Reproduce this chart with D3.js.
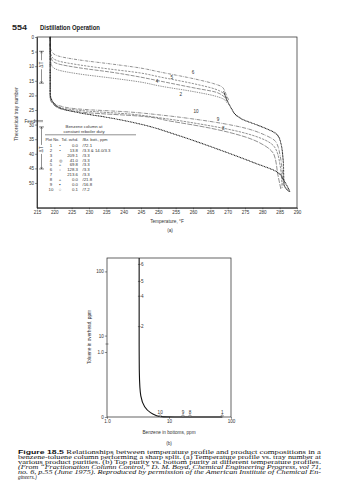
<!DOCTYPE html>
<html>
<head>
<meta charset="utf-8">
<script src="https://cdn.jsdelivr.net/npm/d3@7"></script>
<style>
  body { margin: 0; background: #fff; }
  svg { display: block; font-family: "Liberation Sans", Arial, sans-serif; }
</style>
</head>
<body>
<div id="page"></div>
<script>
// ---- data ----
const tempTicks = [215, 220, 225, 230, 235, 240, 245, 250, 255, 260, 265, 270, 275, 280, 285, 290];
const trayTicks = [0, 5, 10, 15, 20, 25, 30, 35, 40, 45, 50];
const feedTray = 28.8;

// temperature profiles, [temperature F, theoretical tray]
const profile1 = [[218.8, 0], [218.8, 19.2], [219.6, 22.3], [221.6, 24.3], [227.4, 26.0], [236.1, 27.7], [244.7, 29.8], [256.2, 33.9], [267.8, 38.7], [277.9, 43.2], [284.2, 46.2], [286.5, 49.7], [288.0, 53.1]];
const profile2 = [[218.8, 0], [218.8, 6.5], [219.3, 9.9], [221.1, 11.3], [227.4, 12.7], [236.1, 14.0], [244.7, 15.4], [250.5, 16.8], [260.6, 18.8], [266.3, 20.2], [268.7, 21.2], [269.8, 22.6]];
const profile4 = [[218.8, 0], [218.8, 5.1], [219.3, 7.9], [221.1, 9.2], [227.4, 10.6], [236.1, 12.0], [244.7, 13.7], [250.5, 15.1], [260.6, 17.5], [266.3, 18.8], [268.7, 20.2], [269.8, 21.9]];
const profile5 = [[218.8, 0], [218.8, 4.5], [219.3, 6.8], [221.1, 8.2], [227.4, 9.6], [236.1, 11.0], [244.7, 12.3], [250.5, 13.7], [260.6, 16.1], [266.3, 17.8], [268.7, 19.2], [269.8, 21.2]];
const profile6 = [[218.8, 0], [218.8, 3.1], [219.3, 5.1], [221.1, 6.5], [227.4, 7.9], [236.1, 9.2], [244.7, 10.6], [250.5, 12.0], [260.6, 14.4], [266.3, 16.1], [268.4, 17.1], [269.5, 19.5], [270.4, 21.9]];
const profile7 = [[268.9, 18.8], [269.8, 21.6], [271.0, 24.3], [272.4, 26.7], [274.1, 28.1], [279.3, 30.5], [283.7, 32.9], [285.1, 35.3], [286.0, 42.1], [286.3, 50.7], [288.0, 53.1]];
const profile8 = [[218.8, 0], [218.8, 20.9], [220.2, 23.6], [223.1, 25.0], [230.3, 26.0], [244.7, 27.1], [253.4, 28.8], [264.9, 31.2], [275.0, 34.2], [280.8, 37.3], [283.4, 40.4], [284.5, 47.3], [285.4, 52.4]];
const profile9 = [[218.8, 0], [218.8, 20.6], [219.9, 22.9], [222.2, 24.3], [228.8, 25.3], [241.8, 26.4], [250.5, 27.7], [262.0, 29.8], [273.6, 32.5], [280.8, 35.3], [283.7, 38.0], [285.1, 43.8], [285.7, 51.7]];
const profile10 = [[218.8, 0], [218.8, 19.9], [219.6, 22.3], [221.6, 23.6], [227.4, 24.7], [241.8, 25.7], [250.5, 26.7], [262.0, 28.4], [273.6, 30.8], [280.8, 33.6], [283.9, 35.9], [285.1, 40.4], [286.0, 50.7]];

const curveLabels = ["6", "5", "4", "2", "10", "9", "8"];
const curveLabelAt = [[260.0, 12.6], [253.9, 14.3], [249.6, 15.7], [256.5, 20.3], [260.9, 26.1], [267.2, 28.8], [268.7, 31.9]];

// legend table
const plotNos = ["1", "2", "3", "4", "5", "6", "7", "8", "9", "10"];
const plotSymbols = ["•", "•", "", "◎", "+", "▫", "", "+", "▪", "○"];
const tolOvhd = ["0.0", "13.8", "209.1", "41.0", "69.8", "128.3", "213.6", "0.0", "0.0", "0.1"];
const bzBott = ["72.1", "3.3 & 14.0/3.3", "3.3", "3.3", "3.3", "3.3", "3.3", "21.8", "16.8", "7.2"];

// chart (b): top purity vs bottom purity
const bzCurve = [3.3, 3.3, 3.3, 3.3, 3.3, 3.3, 3.45, 4.0, 5.0, 6.5, 7.2, 16.8, 21.8, 72.1];
const tolCurve = [162, 128.3, 69.8, 41.0, 13.8, 0.4, 0.2, 0.14, 0.115, 0.103, 0.1, 0.1, 0.1, 0.1];
const upperPoints = ["6", "5", "4", "2"];
const upperTol = [128.3, 69.8, 41.0, 13.8];
const lowerPoints = ["10", "9", "8", "1"];
const lowerBz = [7.2, 16.8, 21.8, 72.1];
const bzTicks = [1, 10, 100];
const bzTickLabels = ["1.0", "10", "100"];
const tolTicks = [0.1, 1, 10, 100];
const tolTickLabels = ["0", "1.0", "10", "100"];

const captionLines = [
  "Relationships between temperature profile and product compositions in a",
  "benzene-toluene column performing a sharp split. (a) Temperature profile vs. tray number at",
  "various product purities. (b) Top purity vs. bottom purity at different temperature profiles.",
  "(From \u201cFractionation Column Control,\u201d D. M. Boyd, Chemical Engineering Progress, vol 71,",
  "no. 6, p.55 (June 1975). Reproduced by permission of the American Institute of Chemical En-",
  "gineers.)"
];

// ---- page ----
const W = 338, H = 480;
const ink = "#222";
const svg = d3.select("#page").append("svg").attr("width", W).attr("height", H);

svg.append("text").attr("x", 12).attr("y", 29.5).attr("font-size", 7.2).attr("font-weight", "bold")
  .attr("fill", ink).attr("textLength", 15).attr("lengthAdjust", "spacingAndGlyphs").text("554");
svg.append("text").attr("x", 40).attr("y", 29.5).attr("font-size", 7.2).attr("font-weight", "bold")
  .attr("fill", ink).attr("textLength", 60).attr("lengthAdjust", "spacingAndGlyphs").text("Distillation Operation");

// ---- chart (a) ----
const xA = d3.scaleLinear().domain([215, 290]).range([37, 297]);
const yA = d3.scaleLinear().domain([0, 58.5]).range([37, 207.8]);

const gA = svg.append("g");
gA.append("rect").attr("x", xA(215)).attr("y", yA(0)).attr("width", xA(290) - xA(215))
  .attr("height", yA(58.5) - yA(0)).attr("fill", "none").attr("stroke", ink).attr("stroke-width", 0.7);

const axA1 = gA.append("g").attr("transform", `translate(0,${yA(58.5)})`)
  .call(d3.axisBottom(xA).tickValues(tempTicks).tickSize(1.5).tickSizeOuter(0).tickPadding(1.5));
const axA2 = gA.append("g").attr("transform", `translate(${xA(215)},0)`)
  .call(d3.axisLeft(yA).tickValues(trayTicks).tickSize(2).tickSizeOuter(0).tickPadding(1));
[axA1, axA2].forEach(a => {
  a.select(".domain").attr("stroke", ink).attr("stroke-width", 0.8);
  a.selectAll("line").attr("stroke", ink).attr("stroke-width", 0.5);
  a.selectAll("text").attr("font-size", 4.6).attr("fill", "#333");
});

gA.append("text").attr("transform", `translate(17.5,114) rotate(-90)`)
  .attr("text-anchor", "middle").attr("font-size", 5.1).attr("fill", "#333").text("Theoretical tray number");
gA.append("text").attr("x", (xA(215) + xA(290)) / 2).attr("y", 222.5).attr("text-anchor", "middle")
  .attr("font-size", 4.7).attr("fill", "#333").text("Temperature, \u00B0F");
gA.append("text").attr("x", (xA(215) + xA(290)) / 2 + 3).attr("y", 231.5).attr("text-anchor", "middle")
  .attr("font-size", 4.7).attr("fill", "#333").text("(a)");

// feed marker
gA.append("text").attr("x", 35).attr("y", yA(feedTray) + 1.6).attr("text-anchor", "end")
  .attr("font-size", 4.6).attr("fill", "#333").text("Feed");
[-0.6, 0.6].forEach(o => gA.append("line").attr("x1", 34.5).attr("x2", 43)
  .attr("y1", yA(feedTray) + o).attr("y2", yA(feedTray) + o).attr("stroke", ink).attr("stroke-width", 0.4));

// delta-T brackets
function bracket(t0, t1, tm) {
  const bx = 41.5;
  const y0 = yA(t0), y1 = yA(t1), ym = yA(tm);
  gA.append("line").attr("x1", bx).attr("x2", bx).attr("y1", y0).attr("y2", ym - 4.5).attr("stroke", ink).attr("stroke-width", 0.5);
  gA.append("line").attr("x1", bx).attr("x2", bx).attr("y1", ym + 4.5).attr("y2", y1).attr("stroke", ink).attr("stroke-width", 0.5);
  [y0, y1].forEach(y => gA.append("line").attr("x1", bx - 2.4).attr("x2", bx + 2.4).attr("y1", y).attr("y2", y)
    .attr("stroke", ink).attr("stroke-width", 0.6));
  gA.append("path").attr("d", `M${bx - 1},${y0 + 2}L${bx},${y0 + 0.3}L${bx + 1},${y0 + 2}`).attr("fill", "none").attr("stroke", ink).attr("stroke-width", 0.4);
  gA.append("path").attr("d", `M${bx - 1},${y1 - 2}L${bx},${y1 - 0.3}L${bx + 1},${y1 - 2}`).attr("fill", "none").attr("stroke", ink).attr("stroke-width", 0.4);
  gA.append("text").attr("transform", `translate(${bx + 1.6},${ym}) rotate(-90)`).attr("text-anchor", "middle")
    .attr("font-size", 4.7).attr("fill", "#333").text("\u0394T");
}
bracket(4.9, 15.8, 9.5);
bracket(30.8, 45.2, 38.5);

// profiles
const lineA = d3.line().x(d => xA(d[0])).y(d => yA(d[1])).curve(d3.curveMonotoneY);
const profiles = [
  { data: profile6, dash: "3 1 0.6 1", w: 0.5 },
  { data: profile5, dash: "2.2 1.2", w: 0.5 },
  { data: profile4, dash: "4 1.2", w: 0.5 },
  { data: profile2, dash: "1.4 0.9", w: 0.5 },
  { data: profile10, dash: "4 1 0.6 1", w: 0.5 },
  { data: profile9, dash: "2.5 1", w: 0.5 },
  { data: profile8, dash: "5 1.2", w: 0.5 },
  { data: profile1, dash: "0.01 1.6", w: 1.2, round: true },
  { data: profile7, dash: "0.01 1.5", w: 1.2, round: true }
];
profiles.forEach(p => {
  gA.append("path").attr("d", lineA(p.data)).attr("fill", "none").attr("stroke", ink)
    .attr("stroke-width", p.w).attr("stroke-dasharray", p.dash)
    .attr("stroke-linecap", p.round ? "round" : "butt");
});
curveLabels.forEach((c, i) => {
  gA.append("text").attr("x", xA(curveLabelAt[i][0])).attr("y", yA(curveLabelAt[i][1]))
    .attr("text-anchor", "middle").attr("font-size", 4.6).attr("fill", "#333").text(c);
});

// legend table
const lg = gA.append("g").attr("font-size", 4.3).attr("fill", "#333");
lg.append("text").attr("x", 84).attr("y", 127.5).attr("text-anchor", "middle").text("Benzene column at");
lg.append("text").attr("x", 84).attr("y", 132.5).attr("text-anchor", "middle").text("constant reboiler duty");
lg.append("line").attr("x1", 45).attr("x2", 136).attr("y1", 134.8).attr("y2", 134.8).attr("stroke", ink).attr("stroke-width", 0.5);
lg.append("text").attr("x", 45.5).attr("y", 140.8).attr("font-size", 3.9).text("Plot No.");
lg.append("text").attr("x", 61.5).attr("y", 140.8).attr("font-size", 3.9).text("Tol. ovhd.");
lg.append("text").attr("x", 82.5).attr("y", 140.8).attr("font-size", 3.9).text("/Bz. bott., ppm");
plotNos.forEach((n, i) => {
  const y = 147 + i * 4.85;
  lg.append("text").attr("x", 51).attr("y", y).attr("text-anchor", "middle").text(n);
  lg.append("text").attr("x", 60).attr("y", y).attr("text-anchor", "middle").text(plotSymbols[i]);
  lg.append("text").attr("x", 78).attr("y", y).attr("text-anchor", "end").text(tolOvhd[i]);
  lg.append("text").attr("x", 82.5).attr("y", y).text("/" + bzBott[i]);
});

// ---- chart (b) ----
const bL = 107, bR = 231, bT = 258, bB = 417;
const xB = d3.scaleLog().domain([1, 100]).range([bL, bR]);
const yB = d3.scaleLog().domain([0.1, 1, 10, 100]).range([bB, 352, 335.6, 271.4]);
const gB = svg.append("g");
gB.append("rect").attr("x", bL).attr("y", bT).attr("width", bR - bL).attr("height", bB - bT)
  .attr("fill", "none").attr("stroke", ink).attr("stroke-width", 0.7);
const axB1 = gB.append("g").attr("transform", `translate(0,${bB})`)
  .call(d3.axisBottom(xB).tickValues(bzTicks).tickFormat((d, i) => bzTickLabels[i]).tickSize(1.8).tickSizeOuter(0).tickPadding(1.2));
const axB2 = gB.append("g").attr("transform", `translate(${bL},0)`)
  .call(d3.axisLeft(yB).tickValues(tolTicks).tickFormat((d, i) => tolTickLabels[i]).tickSize(2.2).tickSizeOuter(0).tickPadding(1));
[axB1, axB2].forEach(a => {
  a.select(".domain").attr("stroke", "none");
  a.selectAll("line").attr("stroke", ink).attr("stroke-width", 0.5);
  a.selectAll("text").attr("font-size", 4.6).attr("fill", "#333");
});
gB.append("line").attr("x1", bL - 1.5).attr("x2", bL + 1.5).attr("y1", 344).attr("y2", 344).attr("stroke", ink).attr("stroke-width", 0.5);

gB.append("text").attr("transform", `translate(91,337) rotate(-90)`).attr("text-anchor", "middle")
  .attr("font-size", 4.7).attr("fill", "#333").text("Toluene in overhead, ppm");
gB.append("text").attr("x", 169).attr("y", 433.5).attr("text-anchor", "middle")
  .attr("font-size", 4.7).attr("fill", "#333").text("Benzene in bottoms, ppm");
gB.append("text").attr("x", 169).attr("y", 445).attr("text-anchor", "middle")
  .attr("font-size", 4.7).attr("fill", "#333").text("(b)");

const lineB = d3.line().x((d, i) => xB(bzCurve[i])).y((d, i) => yB(tolCurve[i])).curve(d3.curveBasis);
gB.append("path").attr("d", lineB(bzCurve)).attr("fill", "none").attr("stroke", "#111").attr("stroke-width", 1.1);

upperPoints.forEach((p, i) => {
  const x = xB(3.3), y = yB(upperTol[i]);
  gB.append("line").attr("x1", x - 1.2).attr("x2", x + 1.5).attr("y1", y).attr("y2", y).attr("stroke", ink).attr("stroke-width", 0.5);
  gB.append("text").attr("x", x + 1.8).attr("y", y + 1.6).attr("font-size", 4.6).attr("fill", "#333").text(p);
});
lowerPoints.forEach((p, i) => {
  const x = xB(lowerBz[i]), y = yB(0.1) - 1.2;
  gB.append("circle").attr("cx", x).attr("cy", y).attr("r", 1).attr("fill", "#fff").attr("stroke", ink).attr("stroke-width", 0.5);
  gB.append("text").attr("x", x).attr("y", y - 2.2).attr("text-anchor", "middle").attr("font-size", 4.6).attr("fill", "#333").text(p);
});

// ---- caption ----
const cap = svg.append("g").attr("font-family", "'Liberation Serif', 'Times New Roman', serif").attr("font-size", 5.3).attr("fill", "#111");
captionLines.forEach((l, i) => {
  const t = cap.append("text").attr("x", 18).attr("y", 453.5 + i * 5.1);
  if (i < 5) t.attr("textLength", 303).attr("lengthAdjust", "spacingAndGlyphs");
  if (i >= 3) t.attr("font-style", "italic");
  if (i === 0) {
    t.append("tspan").attr("font-family", "'Liberation Sans', Arial, sans-serif").attr("font-weight", "bold").text("Figure 18.5  ");
  }
  t.append("tspan").text(l);
});
</script>
</body>
</html>
